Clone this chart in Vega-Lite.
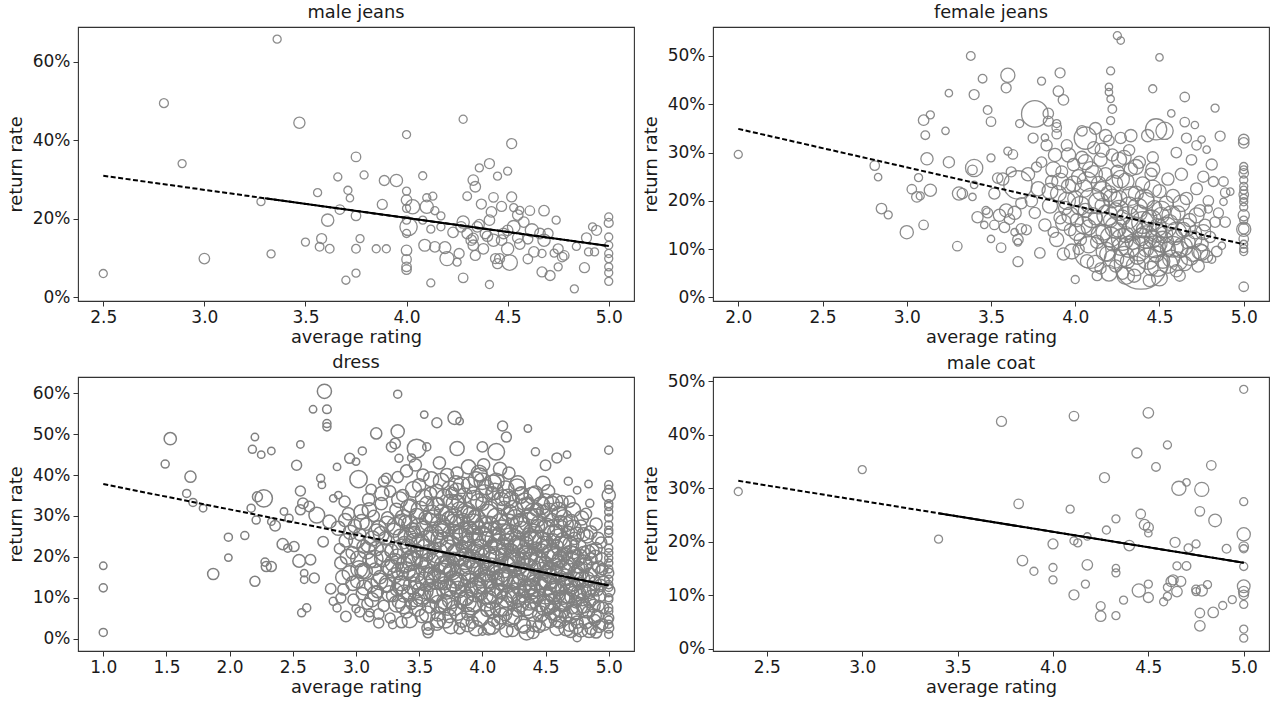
{
"$schema":"https://vega.github.io/schema/vega-lite/v6.json",
"padding":{"left":6,"top":3,"right":5,"bottom":5},
"background":"white",
"bounds":"flush",
"columns":2,
"spacing":{"row":76,"column":79},
"datasets":{
"male_jeans":[
{"rating":3.36,"rate":65.7,"n":13},{"rating":2.80,"rate":49.4,"n":16},{"rating":3.47,"rate":44.4,"n":25},{"rating":2.89,"rate":34.0,"n":13},{"rating":2.50,"rate":6.0,"n":13},{"rating":3.00,"rate":9.8,"n":22},{"rating":3.28,"rate":24.3,"n":13},{"rating":3.33,"rate":11.0,"n":13},{"rating":4.28,"rate":45.3,"n":13},{"rating":4.00,"rate":41.4,"n":13},{"rating":4.52,"rate":39.1,"n":20},{"rating":3.75,"rate":35.7,"n":18},{"rating":3.66,"rate":30.6,"n":13},{"rating":3.79,"rate":31.1,"n":13},{"rating":3.89,"rate":29.7,"n":20},{"rating":3.95,"rate":29.7,"n":30},{"rating":4.08,"rate":30.9,"n":13},{"rating":4.36,"rate":32.9,"n":13},{"rating":4.41,"rate":34.0,"n":20},{"rating":4.50,"rate":32.1,"n":13},{"rating":4.45,"rate":30.8,"n":13},{"rating":4.33,"rate":29.8,"n":22},{"rating":4.34,"rate":28.1,"n":22},{"rating":3.56,"rate":26.6,"n":13},{"rating":3.71,"rate":27.2,"n":13},{"rating":3.72,"rate":25.2,"n":11},{"rating":3.88,"rate":23.6,"n":20},{"rating":4.00,"rate":27.0,"n":13},{"rating":4.00,"rate":24.7,"n":22},{"rating":4.03,"rate":23.0,"n":40},{"rating":4.00,"rate":22.6,"n":13},{"rating":4.10,"rate":23.0,"n":35},{"rating":4.13,"rate":25.7,"n":13},{"rating":4.10,"rate":25.3,"n":13},{"rating":4.14,"rate":22.0,"n":13},{"rating":4.17,"rate":20.7,"n":13},{"rating":4.30,"rate":25.7,"n":15},{"rating":4.37,"rate":23.7,"n":20},{"rating":4.43,"rate":25.4,"n":18},{"rating":4.47,"rate":23.1,"n":20},{"rating":4.52,"rate":25.5,"n":20},{"rating":4.53,"rate":22.8,"n":13},{"rating":4.56,"rate":22.1,"n":13},{"rating":4.61,"rate":22.0,"n":18},{"rating":4.68,"rate":22.0,"n":22},{"rating":3.67,"rate":22.3,"n":18},{"rating":3.75,"rate":20.7,"n":18},{"rating":3.61,"rate":19.6,"n":30},{"rating":4.74,"rate":19.6,"n":13},{"rating":4.01,"rate":17.9,"n":60},{"rating":4.09,"rate":13.2,"n":28},{"rating":4.12,"rate":17.3,"n":13},{"rating":4.14,"rate":12.8,"n":22},{"rating":4.19,"rate":12.6,"n":28},{"rating":4.20,"rate":9.8,"n":40},{"rating":4.25,"rate":8.9,"n":13},{"rating":4.26,"rate":11.1,"n":20},{"rating":4.28,"rate":4.9,"n":18},{"rating":4.28,"rate":19.1,"n":30},{"rating":4.27,"rate":17.9,"n":22},{"rating":4.30,"rate":16.2,"n":22},{"rating":4.32,"rate":14.5,"n":22},{"rating":4.33,"rate":13.2,"n":22},{"rating":4.34,"rate":10.6,"n":20},{"rating":4.35,"rate":17.9,"n":22},{"rating":4.38,"rate":12.3,"n":22},{"rating":4.39,"rate":16.2,"n":22},{"rating":4.41,"rate":19.6,"n":22},{"rating":4.42,"rate":21.7,"n":22},{"rating":4.43,"rate":14.5,"n":30},{"rating":4.44,"rate":9.8,"n":20},{"rating":4.45,"rate":8.5,"n":20},{"rating":4.41,"rate":3.2,"n":13},{"rating":4.46,"rate":9.8,"n":20},{"rating":4.48,"rate":16.2,"n":22},{"rating":4.50,"rate":12.3,"n":30},{"rating":4.51,"rate":8.8,"n":48},{"rating":4.53,"rate":17.9,"n":32},{"rating":4.55,"rate":15.1,"n":22},{"rating":4.58,"rate":19.1,"n":22},{"rating":4.60,"rate":9.7,"n":18},{"rating":4.62,"rate":17.0,"n":35},{"rating":4.63,"rate":11.5,"n":22},{"rating":4.66,"rate":16.2,"n":22},{"rating":4.67,"rate":6.4,"n":20},{"rating":4.68,"rate":14.5,"n":30},{"rating":4.70,"rate":16.2,"n":20},{"rating":4.71,"rate":5.5,"n":20},{"rating":4.75,"rate":12.3,"n":20},{"rating":4.75,"rate":7.7,"n":13},{"rating":4.77,"rate":10.2,"n":18},{"rating":4.78,"rate":10.6,"n":18},{"rating":4.67,"rate":11.1,"n":13},{"rating":4.73,"rate":11.2,"n":13},{"rating":4.84,"rate":12.9,"n":13},{"rating":4.83,"rate":2.1,"n":13},{"rating":4.88,"rate":7.5,"n":20},{"rating":4.89,"rate":15.1,"n":20},{"rating":4.92,"rate":17.9,"n":13},{"rating":4.94,"rate":17.0,"n":20},{"rating":4.90,"rate":11.5,"n":13},{"rating":4.93,"rate":11.5,"n":13},{"rating":5.0,"rate":20.4,"n":13},{"rating":5.0,"rate":18.9,"n":16},{"rating":5.0,"rate":15.3,"n":13},{"rating":5.0,"rate":13.2,"n":13},{"rating":5.0,"rate":11.1,"n":13},{"rating":5.0,"rate":9.8,"n":13},{"rating":5.0,"rate":7.7,"n":13},{"rating":5.0,"rate":6.2,"n":13},{"rating":5.0,"rate":4.0,"n":13},{"rating":3.58,"rate":14.9,"n":20},{"rating":3.57,"rate":12.8,"n":15},{"rating":3.62,"rate":12.3,"n":15},{"rating":3.50,"rate":14.0,"n":13},{"rating":3.75,"rate":12.3,"n":15},{"rating":3.77,"rate":14.9,"n":13},{"rating":3.85,"rate":12.3,"n":13},{"rating":3.90,"rate":12.3,"n":13},{"rating":3.70,"rate":4.3,"n":13},{"rating":3.75,"rate":6.1,"n":13},{"rating":4.00,"rate":16.2,"n":13},{"rating":4.00,"rate":11.9,"n":22},{"rating":4.00,"rate":9.6,"n":18},{"rating":4.00,"rate":7.7,"n":18},{"rating":4.00,"rate":7.0,"n":18},{"rating":4.12,"rate":3.6,"n":13},{"rating":4.08,"rate":19.6,"n":13},{"rating":4.17,"rate":17.9,"n":13},{"rating":4.00,"rate":19.6,"n":13},{"rating":4.55,"rate":20.9,"n":22},{"rating":4.40,"rate":15.5,"n":22},{"rating":4.47,"rate":14.5,"n":22},{"rating":4.56,"rate":13.5,"n":22},{"rating":4.60,"rate":14.8,"n":20},{"rating":4.33,"rate":15.0,"n":20},{"rating":4.23,"rate":16.5,"n":22},{"rating":4.36,"rate":18.5,"n":20},{"rating":4.50,"rate":17.0,"n":22}
],
"female_jeans":[
{"rating":2.00,"rate":29.6,"n":13},{"rating":2.81,"rate":27.3,"n":18},{"rating":2.83,"rate":24.9,"n":11},{"rating":2.85,"rate":18.4,"n":22},{"rating":2.89,"rate":17.1,"n":13},{"rating":3.00,"rate":13.5,"n":35},{"rating":3.03,"rate":22.4,"n":18},{"rating":3.06,"rate":20.8,"n":22},{"rating":3.07,"rate":24.8,"n":13},{"rating":3.08,"rate":21.0,"n":13},{"rating":3.10,"rate":15.0,"n":18},{"rating":3.10,"rate":36.7,"n":22},{"rating":3.14,"rate":37.8,"n":13},{"rating":3.11,"rate":33.6,"n":15},{"rating":3.12,"rate":28.7,"n":30},{"rating":3.14,"rate":22.2,"n":30},{"rating":3.25,"rate":28.0,"n":25},{"rating":3.23,"rate":34.5,"n":11},{"rating":3.25,"rate":42.3,"n":11},{"rating":3.31,"rate":21.5,"n":35},{"rating":3.33,"rate":21.5,"n":22},{"rating":3.30,"rate":10.6,"n":18},{"rating":3.38,"rate":50.0,"n":15},{"rating":3.39,"rate":26.4,"n":18},{"rating":3.40,"rate":26.8,"n":60},{"rating":3.39,"rate":20.8,"n":11},{"rating":3.40,"rate":23.3,"n":11},{"rating":3.45,"rate":45.3,"n":15},{"rating":3.40,"rate":42.0,"n":20},{"rating":3.42,"rate":16.6,"n":25},{"rating":3.47,"rate":18.0,"n":13},{"rating":3.46,"rate":15.0,"n":11},{"rating":3.48,"rate":38.8,"n":15},{"rating":3.50,"rate":36.4,"n":18},{"rating":3.50,"rate":28.9,"n":13},{"rating":3.52,"rate":15.0,"n":18},{"rating":3.50,"rate":12.1,"n":11},{"rating":3.56,"rate":10.3,"n":18},{"rating":3.60,"rate":46.0,"n":40},{"rating":3.59,"rate":43.4,"n":20},{"rating":3.60,"rate":30.3,"n":13},{"rating":3.63,"rate":29.6,"n":18},{"rating":3.54,"rate":24.7,"n":22},{"rating":3.59,"rate":18.0,"n":35},{"rating":3.61,"rate":16.2,"n":22},{"rating":3.66,"rate":23.3,"n":160},{"rating":3.64,"rate":13.5,"n":11},{"rating":3.66,"rate":11.4,"n":11},{"rating":3.66,"rate":7.4,"n":20},{"rating":3.67,"rate":36.0,"n":13},{"rating":3.68,"rate":14.2,"n":22},{"rating":3.76,"rate":38.0,"n":141},{"rating":3.80,"rate":44.8,"n":13},{"rating":3.84,"rate":38.1,"n":22},{"rating":3.82,"rate":33.1,"n":11},{"rating":3.90,"rate":42.7,"n":22},{"rating":3.91,"rate":46.5,"n":20},{"rating":3.93,"rate":40.9,"n":22},{"rating":3.89,"rate":36.0,"n":13},{"rating":3.89,"rate":35.2,"n":18},{"rating":4.00,"rate":3.7,"n":13},{"rating":4.21,"rate":41.1,"n":11},{"rating":4.21,"rate":46.9,"n":13},{"rating":4.20,"rate":43.6,"n":11},{"rating":4.20,"rate":42.5,"n":11},{"rating":4.22,"rate":39.0,"n":15},{"rating":4.21,"rate":36.6,"n":13},{"rating":4.25,"rate":54.2,"n":13},{"rating":4.27,"rate":53.2,"n":11},{"rating":4.46,"rate":43.2,"n":13},{"rating":4.50,"rate":49.7,"n":11},{"rating":4.57,"rate":38.1,"n":11},{"rating":4.65,"rate":41.5,"n":18},{"rating":4.65,"rate":36.3,"n":18},{"rating":4.71,"rate":35.7,"n":11},{"rating":4.83,"rate":39.2,"n":13},{"rating":4.86,"rate":33.4,"n":20},{"rating":4.75,"rate":32.7,"n":11},{"rating":4.78,"rate":30.6,"n":11},{"rating":4.81,"rate":27.5,"n":25},{"rating":4.88,"rate":24.0,"n":18},{"rating":4.89,"rate":21.7,"n":18},{"rating":4.92,"rate":21.9,"n":11},{"rating":4.88,"rate":19.8,"n":11},{"rating":4.89,"rate":15.6,"n":22},{"rating":4.87,"rate":10.7,"n":11},{"rating":4.83,"rate":15.6,"n":22},{"rating":4.79,"rate":18.3,"n":13},{"rating":4.75,"rate":9.3,"n":50},{"rating":4.81,"rate":7.9,"n":13},
{"rating":5.0,"rate":32.7,"n":22},{"rating":5.0,"rate":32.0,"n":22},{"rating":5.0,"rate":27.1,"n":13},{"rating":5.0,"rate":26.4,"n":13},{"rating":5.0,"rate":25.7,"n":18},{"rating":5.0,"rate":24.3,"n":13},{"rating":5.0,"rate":22.2,"n":13},{"rating":5.0,"rate":21.3,"n":18},{"rating":5.0,"rate":19.8,"n":13},{"rating":5.0,"rate":18.7,"n":13},{"rating":5.0,"rate":17.0,"n":25},{"rating":5.0,"rate":14.1,"n":40},{"rating":5.0,"rate":12.1,"n":18},{"rating":5.0,"rate":10.1,"n":13},{"rating":5.0,"rate":9.5,"n":13},{"rating":5.0,"rate":2.2,"n":18},{"rating":5.0,"rate":14.2,"n":22},{"rating":5.0,"rate":23.0,"n":13},{"rating":5.0,"rate":20.5,"n":13},{"rating":5.0,"rate":16.0,"n":13},{"rating":5.0,"rate":11.0,"n":13},
{"rating":3.72,"rate":25.5,"n":35},{"rating":3.74,"rate":20.0,"n":30},{"rating":3.76,"rate":17.5,"n":25},{"rating":3.78,"rate":22.5,"n":40},{"rating":3.80,"rate":28.0,"n":22},{"rating":3.82,"rate":15.0,"n":30},{"rating":3.83,"rate":31.5,"n":25},{"rating":3.85,"rate":19.0,"n":45},{"rating":3.86,"rate":24.0,"n":30},{"rating":3.87,"rate":13.5,"n":22},{"rating":3.88,"rate":29.5,"n":35},{"rating":3.90,"rate":21.5,"n":50},{"rating":3.91,"rate":16.5,"n":30},{"rating":3.92,"rate":26.0,"n":28},{"rating":3.93,"rate":9.0,"n":30},{"rating":3.94,"rate":18.5,"n":35},{"rating":3.95,"rate":31.5,"n":25},{"rating":3.96,"rate":23.0,"n":40},{"rating":3.97,"rate":14.0,"n":28},{"rating":3.98,"rate":9.5,"n":45},{"rating":3.99,"rate":27.5,"n":30},{"rating":3.71,"rate":14.0,"n":20},{"rating":3.68,"rate":19.5,"n":25},{"rating":3.75,"rate":33.0,"n":20},{"rating":3.79,"rate":9.2,"n":22},{"rating":3.84,"rate":36.5,"n":20},{"rating":3.89,"rate":33.8,"n":18},{"rating":3.77,"rate":27.0,"n":20},
{"rating":4.00,"rate":20.5,"n":45},{"rating":4.01,"rate":16.0,"n":35},{"rating":4.02,"rate":25.0,"n":40},{"rating":4.03,"rate":12.0,"n":30},{"rating":4.04,"rate":29.0,"n":30},{"rating":4.05,"rate":22.5,"n":60},{"rating":4.06,"rate":33.0,"n":100},{"rating":4.06,"rate":18.0,"n":40},{"rating":4.07,"rate":7.5,"n":35},{"rating":4.08,"rate":14.5,"n":45},{"rating":4.09,"rate":9.3,"n":200},{"rating":4.09,"rate":26.5,"n":50},{"rating":4.10,"rate":20.0,"n":130},{"rating":4.11,"rate":31.0,"n":30},{"rating":4.12,"rate":16.5,"n":40},{"rating":4.13,"rate":11.5,"n":35},{"rating":4.14,"rate":23.5,"n":45},{"rating":4.15,"rate":28.5,"n":35},{"rating":4.15,"rate":6.0,"n":25},{"rating":4.16,"rate":19.0,"n":40},{"rating":4.17,"rate":13.5,"n":50},{"rating":4.18,"rate":33.5,"n":30},{"rating":4.18,"rate":25.5,"n":35},{"rating":4.19,"rate":9.0,"n":45},{"rating":4.20,"rate":21.5,"n":50},{"rating":4.21,"rate":16.0,"n":40},{"rating":4.22,"rate":29.5,"n":30},{"rating":4.22,"rate":11.0,"n":35},{"rating":4.23,"rate":23.5,"n":60},{"rating":4.24,"rate":18.0,"n":45},{"rating":4.24,"rate":6.5,"n":30},{"rating":4.25,"rate":14.0,"n":40},{"rating":4.25,"rate":26.0,"n":35},{"rating":4.04,"rate":34.5,"n":22},{"rating":4.12,"rate":35.0,"n":28},{"rating":4.20,"rate":32.5,"n":22},{"rating":4.02,"rate":10.0,"n":25},{"rating":4.13,"rate":4.5,"n":20},
{"rating":4.26,"rate":20.5,"n":50},{"rating":4.27,"rate":10.5,"n":60},{"rating":4.28,"rate":16.5,"n":45},{"rating":4.29,"rate":29.0,"n":40},{"rating":4.30,"rate":24.0,"n":55},{"rating":4.30,"rate":13.0,"n":50},{"rating":4.31,"rate":7.5,"n":40},{"rating":4.32,"rate":19.0,"n":60},{"rating":4.33,"rate":33.5,"n":30},{"rating":4.33,"rate":26.5,"n":35},{"rating":4.34,"rate":11.5,"n":45},{"rating":4.35,"rate":15.0,"n":55},{"rating":4.36,"rate":21.5,"n":45},{"rating":4.37,"rate":8.5,"n":50},{"rating":4.38,"rate":28.0,"n":30},{"rating":4.38,"rate":17.5,"n":50},{"rating":4.39,"rate":7.2,"n":566},{"rating":4.39,"rate":12.5,"n":60},{"rating":4.40,"rate":23.5,"n":40},{"rating":4.41,"rate":14.0,"n":50},{"rating":4.42,"rate":10.0,"n":45},{"rating":4.42,"rate":20.0,"n":55},{"rating":4.43,"rate":33.5,"n":30},{"rating":4.44,"rate":16.5,"n":45},{"rating":4.45,"rate":25.5,"n":30},{"rating":4.45,"rate":6.0,"n":40},{"rating":4.46,"rate":12.0,"n":55},{"rating":4.47,"rate":18.5,"n":45},{"rating":4.48,"rate":9.0,"n":50},{"rating":4.48,"rate":34.8,"n":90},{"rating":4.49,"rate":14.5,"n":60},{"rating":4.50,"rate":22.0,"n":35},{"rating":4.50,"rate":11.0,"n":45},{"rating":4.51,"rate":17.0,"n":50},{"rating":4.52,"rate":7.5,"n":40},{"rating":4.53,"rate":13.0,"n":55},{"rating":4.53,"rate":34.5,"n":60},{"rating":4.54,"rate":19.5,"n":40},{"rating":4.55,"rate":10.0,"n":45},{"rating":4.55,"rate":24.5,"n":30},{"rating":4.28,"rate":5.0,"n":30},{"rating":4.35,"rate":4.5,"n":35},{"rating":4.44,"rate":3.5,"n":30},{"rating":4.32,"rate":30.5,"n":25},{"rating":4.46,"rate":29.0,"n":25},{"rating":4.27,"rate":33.0,"n":25},
{"rating":4.56,"rate":15.5,"n":50},{"rating":4.57,"rate":8.0,"n":60},{"rating":4.58,"rate":21.0,"n":35},{"rating":4.59,"rate":12.5,"n":50},{"rating":4.60,"rate":5.5,"n":30},{"rating":4.61,"rate":17.5,"n":40},{"rating":4.62,"rate":10.0,"n":55},{"rating":4.63,"rate":25.5,"n":30},{"rating":4.64,"rate":14.0,"n":45},{"rating":4.65,"rate":7.0,"n":40},{"rating":4.66,"rate":20.5,"n":30},{"rating":4.67,"rate":11.5,"n":40},{"rating":4.68,"rate":16.0,"n":35},{"rating":4.69,"rate":28.5,"n":22},{"rating":4.70,"rate":9.0,"n":45},{"rating":4.71,"rate":13.5,"n":35},{"rating":4.72,"rate":22.5,"n":28},{"rating":4.73,"rate":6.5,"n":30},{"rating":4.74,"rate":18.0,"n":28},{"rating":4.75,"rate":11.0,"n":35},{"rating":4.76,"rate":25.0,"n":25},{"rating":4.77,"rate":15.0,"n":28},{"rating":4.78,"rate":8.5,"n":30},{"rating":4.79,"rate":20.0,"n":22},{"rating":4.80,"rate":12.5,"n":25},{"rating":4.82,"rate":24.0,"n":20},{"rating":4.84,"rate":9.5,"n":22},{"rating":4.85,"rate":17.5,"n":20},{"rating":4.60,"rate":30.0,"n":22},{"rating":4.66,"rate":33.0,"n":20},{"rating":4.72,"rate":31.5,"n":18},{"rating":4.62,"rate":4.5,"n":25},
{"rating":3.52,"rate":21.5,"n":25},{"rating":3.55,"rate":17.0,"n":30},{"rating":3.58,"rate":14.5,"n":22},{"rating":3.62,"rate":26.0,"n":20},{"rating":3.57,"rate":24.5,"n":30},{"rating":3.48,"rate":17.5,"n":20},{"rating":3.64,"rate":17.5,"n":35},{"rating":3.66,"rate":12.0,"n":22},
{"rating":3.85,"rate":22.0,"n":50},{"rating":3.87,"rate":26.5,"n":45},{"rating":3.89,"rate":12.0,"n":40},{"rating":3.91,"rate":24.0,"n":55},{"rating":3.93,"rate":15.5,"n":50},{"rating":3.95,"rate":20.0,"n":60},{"rating":3.97,"rate":17.0,"n":55},{"rating":3.99,"rate":23.5,"n":50},{"rating":4.01,"rate":13.5,"n":55},{"rating":4.03,"rate":19.0,"n":70},{"rating":4.05,"rate":15.0,"n":60},{"rating":4.07,"rate":24.0,"n":75},{"rating":4.08,"rate":11.0,"n":60},{"rating":4.10,"rate":16.5,"n":80},{"rating":4.11,"rate":25.5,"n":60},{"rating":4.12,"rate":7.0,"n":55},{"rating":4.14,"rate":19.5,"n":90},{"rating":4.15,"rate":13.0,"n":70},{"rating":4.16,"rate":22.0,"n":75},{"rating":4.18,"rate":9.5,"n":70},{"rating":4.19,"rate":17.0,"n":85},{"rating":4.21,"rate":12.5,"n":80},{"rating":4.22,"rate":20.5,"n":70},{"rating":4.23,"rate":8.0,"n":75},{"rating":4.24,"rate":14.5,"n":90},{"rating":4.26,"rate":18.0,"n":80},{"rating":4.27,"rate":24.5,"n":60},{"rating":4.28,"rate":12.0,"n":95},{"rating":4.29,"rate":8.5,"n":80},{"rating":4.31,"rate":16.5,"n":100},{"rating":4.32,"rate":10.5,"n":90},{"rating":4.33,"rate":21.0,"n":70},{"rating":4.34,"rate":14.0,"n":90},{"rating":4.36,"rate":6.5,"n":75},{"rating":4.37,"rate":18.5,"n":80},{"rating":4.38,"rate":10.0,"n":110},{"rating":4.40,"rate":15.5,"n":95},{"rating":4.41,"rate":20.5,"n":70},{"rating":4.42,"rate":12.5,"n":100},{"rating":4.43,"rate":8.0,"n":90},{"rating":4.45,"rate":16.0,"n":85},{"rating":4.46,"rate":22.5,"n":60},{"rating":4.47,"rate":10.5,"n":95},{"rating":4.48,"rate":13.5,"n":80},{"rating":4.49,"rate":6.5,"n":85},{"rating":4.51,"rate":18.0,"n":70},{"rating":4.52,"rate":11.5,"n":90},{"rating":4.54,"rate":14.5,"n":85},{"rating":4.55,"rate":7.0,"n":75},{"rating":4.57,"rate":17.0,"n":70},{"rating":4.58,"rate":10.5,"n":85},{"rating":4.60,"rate":13.5,"n":80},{"rating":4.61,"rate":7.5,"n":70},{"rating":4.63,"rate":19.5,"n":55},{"rating":4.64,"rate":10.5,"n":70},{"rating":4.66,"rate":14.5,"n":65},{"rating":4.68,"rate":8.5,"n":65},{"rating":4.70,"rate":12.0,"n":60},{"rating":4.72,"rate":17.0,"n":45},{"rating":4.74,"rate":9.5,"n":50},{"rating":4.76,"rate":13.5,"n":45},{"rating":4.26,"rate":28.5,"n":45},{"rating":4.36,"rate":27.0,"n":45},{"rating":4.46,"rate":26.5,"n":40},{"rating":4.06,"rate":28.0,"n":45},{"rating":4.16,"rate":30.5,"n":40},{"rating":3.96,"rate":29.5,"n":40},{"rating":4.30,"rate":4.5,"n":60},{"rating":4.50,"rate":4.0,"n":50},{"rating":4.20,"rate":5.0,"n":50}
],
"dress":[
{"rating":1.00,"rate":1.5,"n":13},{"rating":1.00,"rate":12.4,"n":13},{"rating":1.00,"rate":17.8,"n":11},{"rating":1.49,"rate":42.7,"n":13},{"rating":1.53,"rate":48.9,"n":30},{"rating":1.69,"rate":39.6,"n":25},{"rating":1.66,"rate":35.5,"n":13},{"rating":1.71,"rate":33.3,"n":13},{"rating":1.79,"rate":31.9,"n":11},{"rating":1.87,"rate":15.8,"n":25},{"rating":1.99,"rate":24.8,"n":13},{"rating":1.99,"rate":19.8,"n":11},{"rating":2.12,"rate":25.2,"n":13},{"rating":2.20,"rate":49.3,"n":11},{"rating":2.18,"rate":46.3,"n":13},{"rating":2.25,"rate":45.0,"n":11},{"rating":2.33,"rate":45.9,"n":11},{"rating":2.17,"rate":31.9,"n":13},{"rating":2.21,"rate":29.0,"n":13},{"rating":2.22,"rate":34.7,"n":20},{"rating":2.27,"rate":34.3,"n":60},{"rating":2.20,"rate":14.0,"n":20},{"rating":2.28,"rate":18.7,"n":13},{"rating":2.29,"rate":17.6,"n":20},{"rating":2.33,"rate":17.6,"n":20},{"rating":2.33,"rate":28.6,"n":11},{"rating":2.36,"rate":27.6,"n":22},{"rating":2.43,"rate":31.1,"n":11},{"rating":2.42,"rate":23.1,"n":25},{"rating":2.46,"rate":22.1,"n":13},{"rating":2.47,"rate":29.4,"n":13},{"rating":2.51,"rate":22.5,"n":20},{"rating":2.53,"rate":42.4,"n":20},{"rating":2.56,"rate":47.5,"n":11},{"rating":2.56,"rate":36.1,"n":20},{"rating":2.56,"rate":31.5,"n":20},{"rating":2.58,"rate":33.1,"n":22},{"rating":2.57,"rate":6.3,"n":13},{"rating":2.61,"rate":7.5,"n":13},{"rating":2.59,"rate":16.0,"n":11},{"rating":2.59,"rate":14.4,"n":11},{"rating":2.67,"rate":14.8,"n":20},{"rating":2.55,"rate":19.0,"n":32},{"rating":2.64,"rate":19.3,"n":22},{"rating":2.66,"rate":56.1,"n":11},{"rating":2.75,"rate":60.5,"n":40},{"rating":2.77,"rate":56.1,"n":15},{"rating":2.77,"rate":52.6,"n":13},{"rating":2.77,"rate":51.8,"n":13},{"rating":2.72,"rate":39.2,"n":13},{"rating":2.73,"rate":37.6,"n":11},{"rating":2.69,"rate":30.2,"n":50},{"rating":2.63,"rate":32.3,"n":22},{"rating":2.74,"rate":23.7,"n":22},{"rating":2.79,"rate":28.6,"n":35},{"rating":2.82,"rate":34.3,"n":11},{"rating":2.85,"rate":42.0,"n":11},{"rating":2.86,"rate":35.1,"n":11},{"rating":2.80,"rate":12.2,"n":22},{"rating":2.82,"rate":9.1,"n":13},{"rating":2.85,"rate":7.5,"n":13},{"rating":2.88,"rate":9.9,"n":20},{"rating":2.92,"rate":5.4,"n":22},{"rating":2.95,"rate":44.1,"n":20},{"rating":3.00,"rate":43.3,"n":11},{"rating":3.02,"rate":39.0,"n":60},{"rating":3.05,"rate":45.9,"n":13},{"rating":3.00,"rate":7.3,"n":13},{"rating":3.10,"rate":5.4,"n":22},{"rating":3.11,"rate":6.3,"n":13},{"rating":3.16,"rate":50.2,"n":25},{"rating":3.18,"rate":3.8,"n":20},{"rating":3.24,"rate":39.2,"n":20},{"rating":3.28,"rate":46.9,"n":20},{"rating":3.29,"rate":3.4,"n":13},{"rating":3.33,"rate":59.8,"n":13},{"rating":3.33,"rate":50.7,"n":35},{"rating":3.31,"rate":47.7,"n":22},{"rating":3.34,"rate":44.1,"n":13},{"rating":3.44,"rate":44.2,"n":13},{"rating":3.48,"rate":46.5,"n":70},{"rating":3.54,"rate":54.8,"n":11},{"rating":3.56,"rate":46.9,"n":13},{"rating":3.64,"rate":52.8,"n":20},{"rating":3.78,"rate":54.0,"n":35},{"rating":3.82,"rate":53.2,"n":11},{"rating":3.80,"rate":46.5,"n":40},{"rating":4.00,"rate":46.9,"n":22},{"rating":4.11,"rate":45.7,"n":55},{"rating":4.16,"rate":52.0,"n":20},{"rating":4.19,"rate":49.3,"n":20},{"rating":4.36,"rate":51.4,"n":11},{"rating":4.42,"rate":45.7,"n":13},{"rating":4.50,"rate":42.4,"n":22},{"rating":4.59,"rate":44.2,"n":20},{"rating":4.67,"rate":45.0,"n":11},{"rating":4.68,"rate":38.5,"n":13},{"rating":4.75,"rate":36.3,"n":11},{"rating":4.84,"rate":37.8,"n":11},{"rating":4.85,"rate":33.1,"n":13},{"rating":4.75,"rate":0.2,"n":13},{"rating":3.57,"rate":1.4,"n":20},{"rating":3.57,"rate":3.0,"n":13},{"rating":4.00,"rate":1.8,"n":13},
{"rating":5.0,"rate":46.1,"n":13},{"rating":5.0,"rate":37.6,"n":13},{"rating":5.0,"rate":35.1,"n":35},{"rating":5.0,"rate":32.3,"n":13},{"rating":5.0,"rate":27.8,"n":13},{"rating":5.0,"rate":25.8,"n":13},{"rating":5.0,"rate":22.1,"n":13},{"rating":5.0,"rate":19.7,"n":13},{"rating":5.0,"rate":16.0,"n":20},{"rating":5.0,"rate":13.2,"n":13},{"rating":5.0,"rate":11.7,"n":30},{"rating":5.0,"rate":9.5,"n":13},{"rating":5.0,"rate":6.7,"n":13},{"rating":5.0,"rate":5.0,"n":20},{"rating":5.0,"rate":2.6,"n":20},{"rating":5.0,"rate":1.0,"n":13},{"rating":5.0,"rate":3.5,"n":13},{"rating":5.0,"rate":4.5,"n":13},{"rating":5.0,"rate":7.5,"n":13},{"rating":5.0,"rate":10.0,"n":13},{"rating":5.0,"rate":12.5,"n":13},{"rating":5.0,"rate":14.5,"n":13},{"rating":5.0,"rate":17.0,"n":13},{"rating":5.0,"rate":18.5,"n":13},{"rating":5.0,"rate":21.0,"n":13},{"rating":5.0,"rate":24.0,"n":13},{"rating":5.0,"rate":26.5,"n":13},{"rating":5.0,"rate":29.5,"n":13},{"rating":5.0,"rate":31.0,"n":13},{"rating":5.0,"rate":33.0,"n":13},{"rating":5.0,"rate":36.5,"n":13},
{"rating":2.86,"rate":27.0,"n":40},{"rating":2.88,"rate":18.5,"n":30},{"rating":2.90,"rate":12.0,"n":25},{"rating":2.92,"rate":24.0,"n":35},{"rating":2.94,"rate":30.5,"n":30},{"rating":2.95,"rate":16.0,"n":45},{"rating":2.97,"rate":21.0,"n":30},{"rating":2.98,"rate":9.5,"n":25},{"rating":2.99,"rate":27.5,"n":35},{"rating":2.91,"rate":33.5,"n":25},{"rating":2.87,"rate":22.0,"n":22},
{"rating":3.01,"rate":14.0,"n":35},{"rating":3.02,"rate":19.5,"n":50},{"rating":3.03,"rate":25.5,"n":30},{"rating":3.04,"rate":31.0,"n":40},{"rating":3.05,"rate":11.0,"n":30},{"rating":3.06,"rate":22.5,"n":35},{"rating":3.07,"rate":16.5,"n":45},{"rating":3.08,"rate":28.0,"n":30},{"rating":3.09,"rate":8.5,"n":25},{"rating":3.10,"rate":34.0,"n":30},{"rating":3.11,"rate":19.0,"n":40},{"rating":3.12,"rate":13.0,"n":35},{"rating":3.13,"rate":24.5,"n":45},{"rating":3.14,"rate":30.0,"n":25},{"rating":3.15,"rate":17.0,"n":30},{"rating":3.12,"rate":36.5,"n":22},{"rating":3.03,"rate":6.5,"n":20},
{"rating":3.16,"rate":22.0,"n":40},{"rating":3.17,"rate":11.5,"n":30},{"rating":3.18,"rate":27.0,"n":45},{"rating":3.19,"rate":15.0,"n":35},{"rating":3.20,"rate":33.0,"n":30},{"rating":3.21,"rate":19.5,"n":50},{"rating":3.22,"rate":8.0,"n":25},{"rating":3.23,"rate":24.5,"n":35},{"rating":3.24,"rate":13.0,"n":40},{"rating":3.25,"rate":29.5,"n":30},{"rating":3.26,"rate":17.5,"n":45},{"rating":3.27,"rate":36.0,"n":25},{"rating":3.28,"rate":21.5,"n":35},{"rating":3.29,"rate":10.5,"n":30},{"rating":3.30,"rate":26.5,"n":40},{"rating":3.18,"rate":6.0,"n":22},{"rating":3.27,"rate":5.0,"n":20},{"rating":3.22,"rate":38.5,"n":22},
{"rating":3.31,"rate":15.5,"n":45},{"rating":3.32,"rate":31.5,"n":35},{"rating":3.33,"rate":20.0,"n":50},{"rating":3.34,"rate":9.0,"n":35},{"rating":3.35,"rate":25.0,"n":40},{"rating":3.36,"rate":13.5,"n":45},{"rating":3.37,"rate":35.0,"n":30},{"rating":3.38,"rate":18.0,"n":55},{"rating":3.39,"rate":28.5,"n":35},{"rating":3.40,"rate":6.5,"n":30},{"rating":3.41,"rate":22.5,"n":45},{"rating":3.42,"rate":11.0,"n":40},{"rating":3.43,"rate":32.5,"n":35},{"rating":3.44,"rate":16.0,"n":50},{"rating":3.45,"rate":26.5,"n":40},{"rating":3.33,"rate":39.5,"n":25},{"rating":3.40,"rate":41.0,"n":30},{"rating":3.36,"rate":4.0,"n":25},{"rating":3.43,"rate":20.0,"n":35},{"rating":3.38,"rate":23.5,"n":30},{"rating":3.32,"rate":12.0,"n":30},{"rating":3.44,"rate":8.5,"n":25},{"rating":3.35,"rate":29.0,"n":25},
{"rating":3.46,"rate":19.0,"n":55},{"rating":3.47,"rate":9.5,"n":40},{"rating":3.48,"rate":30.0,"n":45},{"rating":3.49,"rate":14.0,"n":50},{"rating":3.50,"rate":37.5,"n":35},{"rating":3.51,"rate":23.5,"n":60},{"rating":3.52,"rate":5.5,"n":35},{"rating":3.53,"rate":27.0,"n":40},{"rating":3.54,"rate":17.0,"n":55},{"rating":3.55,"rate":11.5,"n":45},{"rating":3.56,"rate":33.0,"n":40},{"rating":3.57,"rate":21.0,"n":50},{"rating":3.58,"rate":8.0,"n":40},{"rating":3.59,"rate":25.5,"n":45},{"rating":3.60,"rate":15.5,"n":55},{"rating":3.47,"rate":42.5,"n":30},{"rating":3.53,"rate":40.0,"n":30},{"rating":3.57,"rate":2.5,"n":30},{"rating":3.50,"rate":12.0,"n":35},{"rating":3.55,"rate":29.5,"n":35},{"rating":3.48,"rate":21.5,"n":35},{"rating":3.59,"rate":35.5,"n":30},{"rating":3.52,"rate":18.5,"n":30},{"rating":3.58,"rate":13.0,"n":30},{"rating":3.46,"rate":26.0,"n":30},
{"rating":3.61,"rate":29.5,"n":50},{"rating":3.62,"rate":10.5,"n":45},{"rating":3.63,"rate":20.0,"n":60},{"rating":3.64,"rate":36.0,"n":40},{"rating":3.65,"rate":6.0,"n":40},{"rating":3.66,"rate":24.5,"n":55},{"rating":3.67,"rate":14.0,"n":50},{"rating":3.68,"rate":31.0,"n":45},{"rating":3.69,"rate":18.0,"n":60},{"rating":3.70,"rate":9.0,"n":45},{"rating":3.71,"rate":27.0,"n":50},{"rating":3.72,"rate":40.0,"n":35},{"rating":3.73,"rate":12.5,"n":55},{"rating":3.74,"rate":22.0,"n":60},{"rating":3.75,"rate":33.5,"n":45},{"rating":3.62,"rate":16.0,"n":35},{"rating":3.64,"rate":3.5,"n":30},{"rating":3.66,"rate":43.0,"n":30},{"rating":3.68,"rate":26.5,"n":35},{"rating":3.70,"rate":13.5,"n":35},{"rating":3.72,"rate":19.0,"n":35},{"rating":3.74,"rate":5.5,"n":35},{"rating":3.65,"rate":33.0,"n":30},{"rating":3.73,"rate":29.5,"n":30},{"rating":3.61,"rate":22.0,"n":30},{"rating":3.67,"rate":8.0,"n":30},{"rating":3.75,"rate":16.5,"n":35},
{"rating":3.76,"rate":16.5,"n":60},{"rating":3.77,"rate":28.5,"n":50},{"rating":3.78,"rate":7.5,"n":45},{"rating":3.79,"rate":38.0,"n":45},{"rating":3.80,"rate":21.0,"n":65},{"rating":3.81,"rate":12.0,"n":55},{"rating":3.82,"rate":31.5,"n":50},{"rating":3.83,"rate":25.0,"n":60},{"rating":3.84,"rate":4.5,"n":40},{"rating":3.85,"rate":17.5,"n":60},{"rating":3.86,"rate":35.0,"n":45},{"rating":3.87,"rate":10.0,"n":50},{"rating":3.88,"rate":23.0,"n":55},{"rating":3.89,"rate":42.0,"n":40},{"rating":3.90,"rate":14.5,"n":55},{"rating":3.77,"rate":19.5,"n":35},{"rating":3.79,"rate":26.0,"n":35},{"rating":3.81,"rate":33.5,"n":35},{"rating":3.83,"rate":9.0,"n":35},{"rating":3.85,"rate":29.0,"n":35},{"rating":3.87,"rate":20.5,"n":35},{"rating":3.89,"rate":6.0,"n":35},{"rating":3.78,"rate":14.0,"n":35},{"rating":3.80,"rate":40.5,"n":30},{"rating":3.82,"rate":2.5,"n":25},{"rating":3.84,"rate":22.5,"n":30},{"rating":3.86,"rate":13.0,"n":30},{"rating":3.88,"rate":31.0,"n":30},{"rating":3.90,"rate":27.0,"n":35},{"rating":3.76,"rate":35.5,"n":30},
{"rating":3.91,"rate":30.0,"n":60},{"rating":3.92,"rate":19.5,"n":65},{"rating":3.93,"rate":8.5,"n":50},{"rating":3.94,"rate":25.5,"n":55},{"rating":3.95,"rate":39.0,"n":45},{"rating":3.96,"rate":13.0,"n":60},{"rating":3.97,"rate":33.5,"n":50},{"rating":3.98,"rate":22.0,"n":65},{"rating":3.99,"rate":5.0,"n":45},{"rating":4.00,"rate":16.0,"n":60},{"rating":4.01,"rate":28.0,"n":55},{"rating":4.02,"rate":10.5,"n":55},{"rating":4.03,"rate":37.0,"n":45},{"rating":4.04,"rate":20.5,"n":60},{"rating":4.05,"rate":2.5,"n":35},{"rating":3.91,"rate":12.0,"n":35},{"rating":3.93,"rate":35.5,"n":35},{"rating":3.95,"rate":17.0,"n":35},{"rating":3.97,"rate":27.0,"n":35},{"rating":3.99,"rate":11.0,"n":35},{"rating":4.01,"rate":42.5,"n":30},{"rating":4.03,"rate":24.5,"n":35},{"rating":4.05,"rate":14.0,"n":40},{"rating":3.92,"rate":4.0,"n":30},{"rating":3.94,"rate":30.0,"n":30},{"rating":3.96,"rate":21.5,"n":35},{"rating":3.98,"rate":14.5,"n":30},{"rating":4.00,"rate":33.0,"n":35},{"rating":4.02,"rate":18.5,"n":35},{"rating":4.04,"rate":7.0,"n":35},{"rating":3.98,"rate":40.0,"n":40},
{"rating":4.06,"rate":31.5,"n":55},{"rating":4.07,"rate":17.5,"n":65},{"rating":4.08,"rate":7.0,"n":50},{"rating":4.09,"rate":24.5,"n":60},{"rating":4.10,"rate":12.5,"n":60},{"rating":4.11,"rate":38.5,"n":50},{"rating":4.12,"rate":20.0,"n":65},{"rating":4.13,"rate":4.0,"n":40},{"rating":4.14,"rate":28.5,"n":55},{"rating":4.15,"rate":15.0,"n":60},{"rating":4.16,"rate":34.5,"n":50},{"rating":4.17,"rate":9.5,"n":55},{"rating":4.18,"rate":22.5,"n":60},{"rating":4.19,"rate":2.0,"n":35},{"rating":4.20,"rate":18.0,"n":55},{"rating":4.06,"rate":10.0,"n":35},{"rating":4.08,"rate":35.5,"n":35},{"rating":4.10,"rate":27.0,"n":35},{"rating":4.12,"rate":14.5,"n":35},{"rating":4.14,"rate":41.5,"n":35},{"rating":4.16,"rate":20.5,"n":35},{"rating":4.18,"rate":6.0,"n":35},{"rating":4.20,"rate":30.5,"n":35},{"rating":4.07,"rate":22.5,"n":35},{"rating":4.09,"rate":4.5,"n":30},{"rating":4.11,"rate":16.0,"n":35},{"rating":4.13,"rate":25.5,"n":35},{"rating":4.15,"rate":11.5,"n":35},{"rating":4.17,"rate":32.0,"n":35},{"rating":4.19,"rate":24.0,"n":35},
{"rating":4.21,"rate":26.0,"n":60},{"rating":4.22,"rate":11.0,"n":60},{"rating":4.23,"rate":34.0,"n":50},{"rating":4.24,"rate":19.0,"n":65},{"rating":4.25,"rate":5.5,"n":50},{"rating":4.26,"rate":29.5,"n":55},{"rating":4.27,"rate":14.5,"n":60},{"rating":4.28,"rate":38.0,"n":45},{"rating":4.29,"rate":22.0,"n":65},{"rating":4.30,"rate":8.5,"n":55},{"rating":4.31,"rate":26.5,"n":60},{"rating":4.32,"rate":16.5,"n":60},{"rating":4.33,"rate":3.0,"n":40},{"rating":4.34,"rate":32.5,"n":50},{"rating":4.35,"rate":12.0,"n":55},{"rating":4.21,"rate":40.5,"n":30},{"rating":4.23,"rate":21.5,"n":35},{"rating":4.25,"rate":13.5,"n":35},{"rating":4.27,"rate":23.5,"n":35},{"rating":4.29,"rate":9.5,"n":35},{"rating":4.31,"rate":35.5,"n":35},{"rating":4.33,"rate":19.5,"n":35},{"rating":4.35,"rate":24.0,"n":35},{"rating":4.22,"rate":31.0,"n":35},{"rating":4.24,"rate":2.0,"n":30},{"rating":4.26,"rate":17.0,"n":35},{"rating":4.28,"rate":7.0,"n":35},{"rating":4.30,"rate":29.0,"n":35},{"rating":4.32,"rate":10.5,"n":35},{"rating":4.34,"rate":21.0,"n":35},
{"rating":4.36,"rate":20.0,"n":60},{"rating":4.37,"rate":7.0,"n":55},{"rating":4.38,"rate":30.0,"n":55},{"rating":4.39,"rate":15.0,"n":65},{"rating":4.40,"rate":24.5,"n":60},{"rating":4.41,"rate":3.5,"n":45},{"rating":4.42,"rate":35.5,"n":45},{"rating":4.43,"rate":11.0,"n":60},{"rating":4.44,"rate":19.0,"n":65},{"rating":4.45,"rate":28.0,"n":55},{"rating":4.46,"rate":6.0,"n":50},{"rating":4.47,"rate":16.5,"n":60},{"rating":4.48,"rate":38.0,"n":40},{"rating":4.49,"rate":23.0,"n":55},{"rating":4.50,"rate":10.5,"n":55},{"rating":4.36,"rate":33.0,"n":35},{"rating":4.38,"rate":12.5,"n":35},{"rating":4.40,"rate":1.5,"n":30},{"rating":4.42,"rate":22.0,"n":35},{"rating":4.44,"rate":27.5,"n":35},{"rating":4.46,"rate":13.5,"n":35},{"rating":4.48,"rate":31.0,"n":35},{"rating":4.50,"rate":18.5,"n":35},{"rating":4.37,"rate":25.5,"n":35},{"rating":4.39,"rate":9.0,"n":35},{"rating":4.41,"rate":17.5,"n":35},{"rating":4.43,"rate":31.5,"n":35},{"rating":4.45,"rate":3.0,"n":30},{"rating":4.47,"rate":21.5,"n":35},{"rating":4.49,"rate":14.0,"n":35},
{"rating":4.51,"rate":27.5,"n":50},{"rating":4.52,"rate":14.0,"n":60},{"rating":4.53,"rate":4.5,"n":45},{"rating":4.54,"rate":21.0,"n":60},{"rating":4.55,"rate":33.0,"n":45},{"rating":4.56,"rate":9.0,"n":55},{"rating":4.57,"rate":17.5,"n":60},{"rating":4.58,"rate":26.0,"n":50},{"rating":4.59,"rate":2.5,"n":40},{"rating":4.60,"rate":12.5,"n":55},{"rating":4.61,"rate":30.5,"n":45},{"rating":4.62,"rate":19.5,"n":55},{"rating":4.63,"rate":7.0,"n":50},{"rating":4.64,"rate":24.0,"n":50},{"rating":4.65,"rate":15.0,"n":55},{"rating":4.52,"rate":36.0,"n":35},{"rating":4.54,"rate":11.0,"n":35},{"rating":4.56,"rate":24.0,"n":35},{"rating":4.58,"rate":6.0,"n":35},{"rating":4.60,"rate":19.0,"n":35},{"rating":4.62,"rate":28.5,"n":35},{"rating":4.64,"rate":10.0,"n":35},{"rating":4.53,"rate":17.0,"n":35},{"rating":4.55,"rate":29.0,"n":35},{"rating":4.57,"rate":13.0,"n":35},{"rating":4.59,"rate":22.5,"n":35},{"rating":4.61,"rate":4.0,"n":30},{"rating":4.63,"rate":33.5,"n":30},{"rating":4.65,"rate":20.5,"n":35},{"rating":4.51,"rate":8.0,"n":35},
{"rating":4.66,"rate":28.0,"n":45},{"rating":4.67,"rate":9.5,"n":50},{"rating":4.68,"rate":18.0,"n":55},{"rating":4.69,"rate":3.5,"n":40},{"rating":4.70,"rate":23.0,"n":50},{"rating":4.71,"rate":13.0,"n":55},{"rating":4.72,"rate":31.5,"n":40},{"rating":4.73,"rate":6.5,"n":45},{"rating":4.74,"rate":16.0,"n":50},{"rating":4.75,"rate":25.5,"n":40},{"rating":4.76,"rate":11.0,"n":45},{"rating":4.77,"rate":20.0,"n":45},{"rating":4.78,"rate":2.0,"n":35},{"rating":4.79,"rate":14.5,"n":45},{"rating":4.80,"rate":8.0,"n":40},{"rating":4.66,"rate":5.5,"n":30},{"rating":4.68,"rate":26.0,"n":30},{"rating":4.70,"rate":12.0,"n":30},{"rating":4.72,"rate":21.0,"n":30},{"rating":4.74,"rate":9.0,"n":30},{"rating":4.76,"rate":17.5,"n":30},{"rating":4.78,"rate":27.5,"n":30},{"rating":4.80,"rate":21.0,"n":30},{"rating":4.67,"rate":14.5,"n":30},{"rating":4.69,"rate":33.5,"n":25},{"rating":4.71,"rate":7.5,"n":30},{"rating":4.73,"rate":24.5,"n":30},{"rating":4.75,"rate":4.0,"n":30},{"rating":4.77,"rate":13.5,"n":30},{"rating":4.79,"rate":9.5,"n":30},
{"rating":4.81,"rate":18.0,"n":40},{"rating":4.82,"rate":4.0,"n":35},{"rating":4.83,"rate":25.0,"n":35},{"rating":4.84,"rate":11.5,"n":40},{"rating":4.85,"rate":15.5,"n":40},{"rating":4.86,"rate":2.5,"n":30},{"rating":4.87,"rate":21.5,"n":35},{"rating":4.88,"rate":8.0,"n":35},{"rating":4.89,"rate":13.5,"n":35},{"rating":4.90,"rate":28.0,"n":30},{"rating":4.91,"rate":5.5,"n":30},{"rating":4.92,"rate":17.5,"n":30},{"rating":4.93,"rate":10.5,"n":30},{"rating":4.94,"rate":23.5,"n":25},{"rating":4.95,"rate":3.5,"n":25},{"rating":4.96,"rate":14.0,"n":25},{"rating":4.82,"rate":30.5,"n":25},{"rating":4.84,"rate":6.5,"n":30},{"rating":4.86,"rate":19.5,"n":30},{"rating":4.88,"rate":12.0,"n":30},{"rating":4.90,"rate":1.5,"n":25},{"rating":4.92,"rate":8.0,"n":25},{"rating":4.94,"rate":16.5,"n":25},{"rating":4.85,"rate":9.0,"n":30},{"rating":4.89,"rate":4.5,"n":25},
{"rating":3.305,"rate":18.5,"n":70},{"rating":3.315,"rate":27.5,"n":60},{"rating":3.325,"rate":8.5,"n":55},{"rating":3.345,"rate":34.0,"n":50},{"rating":3.355,"rate":13.0,"n":65},{"rating":3.365,"rate":22.0,"n":75},{"rating":3.375,"rate":29.5,"n":55},{"rating":3.385,"rate":11.0,"n":60},{"rating":3.395,"rate":16.5,"n":70},{"rating":3.405,"rate":25.0,"n":65},{"rating":3.415,"rate":32.0,"n":50},{"rating":3.425,"rate":4.5,"n":45},{"rating":3.435,"rate":19.0,"n":75},{"rating":3.445,"rate":13.0,"n":60},{"rating":3.455,"rate":36.5,"n":50},{"rating":3.465,"rate":23.5,"n":70},{"rating":3.475,"rate":16.0,"n":65},{"rating":3.485,"rate":7.5,"n":55},{"rating":3.495,"rate":27.0,"n":70},{"rating":3.505,"rate":31.5,"n":60},{"rating":3.515,"rate":10.0,"n":60},{"rating":3.525,"rate":20.0,"n":80},{"rating":3.535,"rate":34.5,"n":55},{"rating":3.545,"rate":14.0,"n":70},{"rating":3.555,"rate":24.0,"n":75},{"rating":3.565,"rate":6.0,"n":50},{"rating":3.575,"rate":28.5,"n":65},{"rating":3.585,"rate":18.5,"n":80},{"rating":3.595,"rate":39.0,"n":45},{"rating":3.605,"rate":11.0,"n":65},
{"rating":3.615,"rate":25.5,"n":75},{"rating":3.625,"rate":32.5,"n":60},{"rating":3.635,"rate":14.5,"n":80},{"rating":3.645,"rate":21.0,"n":85},{"rating":3.655,"rate":8.5,"n":60},{"rating":3.665,"rate":28.0,"n":70},{"rating":3.675,"rate":38.5,"n":50},{"rating":3.685,"rate":16.0,"n":80},{"rating":3.695,"rate":23.5,"n":85},{"rating":3.705,"rate":4.5,"n":50},{"rating":3.715,"rate":12.0,"n":75},{"rating":3.725,"rate":30.0,"n":70},{"rating":3.735,"rate":18.0,"n":85},{"rating":3.745,"rate":36.5,"n":55},{"rating":3.755,"rate":9.5,"n":65},{"rating":3.765,"rate":25.5,"n":80},{"rating":3.775,"rate":14.0,"n":80},{"rating":3.785,"rate":33.0,"n":65},{"rating":3.795,"rate":20.5,"n":90},{"rating":3.805,"rate":6.5,"n":55},{"rating":3.815,"rate":28.0,"n":75},{"rating":3.825,"rate":15.5,"n":85},{"rating":3.835,"rate":37.5,"n":55},{"rating":3.845,"rate":24.5,"n":85},{"rating":3.855,"rate":10.5,"n":70},{"rating":3.865,"rate":19.5,"n":90},{"rating":3.875,"rate":31.0,"n":70},{"rating":3.885,"rate":3.5,"n":45},{"rating":3.895,"rate":26.0,"n":80},{"rating":3.905,"rate":16.5,"n":85},
{"rating":3.915,"rate":8.0,"n":65},{"rating":3.925,"rate":23.5,"n":90},{"rating":3.935,"rate":34.0,"n":65},{"rating":3.945,"rate":12.5,"n":80},{"rating":3.955,"rate":29.0,"n":75},{"rating":3.965,"rate":18.0,"n":95},{"rating":3.975,"rate":40.5,"n":50},{"rating":3.985,"rate":5.0,"n":55},{"rating":3.995,"rate":25.0,"n":85},{"rating":4.005,"rate":13.5,"n":85},{"rating":4.015,"rate":35.5,"n":60},{"rating":4.025,"rate":20.0,"n":95},{"rating":4.035,"rate":9.0,"n":70},{"rating":4.045,"rate":30.5,"n":75},{"rating":4.055,"rate":16.5,"n":90},{"rating":4.065,"rate":26.0,"n":85},{"rating":4.075,"rate":3.0,"n":50},{"rating":4.085,"rate":38.0,"n":55},{"rating":4.095,"rate":19.0,"n":95},{"rating":4.105,"rate":11.0,"n":80},{"rating":4.115,"rate":29.5,"n":80},{"rating":4.125,"rate":23.0,"n":90},{"rating":4.135,"rate":7.5,"n":65},{"rating":4.145,"rate":33.5,"n":65},{"rating":4.155,"rate":14.5,"n":90},{"rating":4.165,"rate":25.5,"n":85},{"rating":4.175,"rate":17.5,"n":90},{"rating":4.185,"rate":36.5,"n":55},{"rating":4.195,"rate":10.0,"n":75},{"rating":4.205,"rate":28.0,"n":80},
{"rating":4.215,"rate":20.5,"n":95},{"rating":4.225,"rate":5.0,"n":60},{"rating":4.235,"rate":15.0,"n":90},{"rating":4.245,"rate":31.5,"n":70},{"rating":4.255,"rate":24.0,"n":90},{"rating":4.265,"rate":10.0,"n":80},{"rating":4.275,"rate":37.0,"n":55},{"rating":4.285,"rate":18.5,"n":95},{"rating":4.295,"rate":27.5,"n":80},{"rating":4.305,"rate":13.0,"n":85},{"rating":4.315,"rate":3.5,"n":50},{"rating":4.325,"rate":22.5,"n":90},{"rating":4.335,"rate":33.5,"n":60},{"rating":4.345,"rate":8.0,"n":75},{"rating":4.355,"rate":17.0,"n":95},{"rating":4.365,"rate":28.5,"n":75},{"rating":4.375,"rate":12.0,"n":85},{"rating":4.385,"rate":23.5,"n":90},{"rating":4.395,"rate":35.0,"n":55},{"rating":4.405,"rate":6.5,"n":70},{"rating":4.415,"rate":19.5,"n":95},{"rating":4.425,"rate":29.5,"n":70},{"rating":4.435,"rate":14.5,"n":90},{"rating":4.445,"rate":24.0,"n":85},{"rating":4.455,"rate":9.0,"n":80},{"rating":4.465,"rate":32.5,"n":60},{"rating":4.475,"rate":17.5,"n":90},{"rating":4.485,"rate":4.0,"n":55},{"rating":4.495,"rate":26.5,"n":75},{"rating":4.505,"rate":13.0,"n":85},
{"rating":4.515,"rate":21.5,"n":85},{"rating":4.525,"rate":31.0,"n":60},{"rating":4.535,"rate":8.5,"n":75},{"rating":4.545,"rate":16.0,"n":90},{"rating":4.555,"rate":25.5,"n":70},{"rating":4.565,"rate":11.5,"n":85},{"rating":4.575,"rate":33.5,"n":50},{"rating":4.585,"rate":19.5,"n":85},{"rating":4.595,"rate":5.0,"n":60},{"rating":4.605,"rate":27.0,"n":65},{"rating":4.615,"rate":13.5,"n":85},{"rating":4.625,"rate":22.5,"n":80},{"rating":4.635,"rate":9.0,"n":75},{"rating":4.645,"rate":29.5,"n":55},{"rating":4.655,"rate":17.0,"n":80},{"rating":4.665,"rate":2.5,"n":45},{"rating":4.675,"rate":23.0,"n":70},{"rating":4.685,"rate":11.0,"n":75},{"rating":4.695,"rate":20.5,"n":70},{"rating":4.705,"rate":6.0,"n":60},{"rating":4.715,"rate":27.0,"n":55},{"rating":4.725,"rate":14.0,"n":70},{"rating":4.735,"rate":19.5,"n":65},{"rating":4.745,"rate":3.0,"n":45},{"rating":4.755,"rate":22.5,"n":55},{"rating":4.765,"rate":8.0,"n":60},{"rating":4.775,"rate":16.5,"n":60},{"rating":4.785,"rate":29.5,"n":40},{"rating":4.795,"rate":11.5,"n":55},{"rating":4.805,"rate":18.5,"n":50},
{"rating":4.815,"rate":7.0,"n":50},{"rating":4.825,"rate":14.5,"n":50},{"rating":4.835,"rate":21.0,"n":45},{"rating":4.845,"rate":2.0,"n":40},{"rating":4.855,"rate":26.0,"n":35},{"rating":4.865,"rate":10.0,"n":45},{"rating":4.875,"rate":17.0,"n":40},{"rating":4.885,"rate":5.5,"n":40},{"rating":4.895,"rate":20.0,"n":35},{"rating":4.905,"rate":12.0,"n":35},{"rating":4.915,"rate":24.5,"n":30},{"rating":4.925,"rate":3.0,"n":30},{"rating":4.935,"rate":13.0,"n":30},{"rating":4.945,"rate":19.5,"n":30},{"rating":4.955,"rate":7.5,"n":25},
{"rating":3.005,"rate":24.0,"n":50},{"rating":3.025,"rate":17.0,"n":55},{"rating":3.045,"rate":28.5,"n":45},{"rating":3.065,"rate":12.5,"n":45},{"rating":3.085,"rate":21.5,"n":55},{"rating":3.105,"rate":31.5,"n":40},{"rating":3.125,"rate":9.5,"n":40},{"rating":3.145,"rate":19.5,"n":60},{"rating":3.165,"rate":26.0,"n":55},{"rating":3.185,"rate":14.0,"n":55},{"rating":3.205,"rate":35.5,"n":40},{"rating":3.225,"rate":21.0,"n":65},{"rating":3.245,"rate":28.0,"n":50},{"rating":3.265,"rate":11.0,"n":50},{"rating":3.285,"rate":17.0,"n":65},{"rating":2.935,"rate":20.0,"n":45},{"rating":2.955,"rate":26.0,"n":40},{"rating":2.975,"rate":13.5,"n":40},{"rating":2.895,"rate":15.0,"n":40},{"rating":2.915,"rate":29.0,"n":35},
{"rating":3.625,"rate":11.5,"n":80},{"rating":3.65,"rate":19.0,"n":90},{"rating":3.675,"rate":26.5,"n":70},{"rating":3.70,"rate":16.5,"n":85},{"rating":3.725,"rate":8.0,"n":70},{"rating":3.75,"rate":22.5,"n":90},{"rating":3.775,"rate":29.5,"n":70},{"rating":3.80,"rate":13.5,"n":90},{"rating":3.825,"rate":20.5,"n":95},{"rating":3.85,"rate":26.0,"n":80},{"rating":3.875,"rate":9.0,"n":75},{"rating":3.90,"rate":18.5,"n":95},{"rating":3.925,"rate":28.0,"n":80},{"rating":3.95,"rate":11.5,"n":85},{"rating":3.975,"rate":21.5,"n":100},{"rating":4.00,"rate":24.5,"n":90},{"rating":4.025,"rate":14.0,"n":95},{"rating":4.05,"rate":27.5,"n":80},{"rating":4.075,"rate":10.0,"n":85},{"rating":4.10,"rate":21.5,"n":100},{"rating":4.125,"rate":16.0,"n":95},{"rating":4.15,"rate":26.5,"n":85},{"rating":4.175,"rate":8.0,"n":80},{"rating":4.20,"rate":14.0,"n":95},{"rating":4.225,"rate":24.5,"n":90},{"rating":4.25,"rate":19.0,"n":100},{"rating":4.275,"rate":11.0,"n":90},{"rating":4.30,"rate":28.0,"n":75},{"rating":4.325,"rate":15.5,"n":100},{"rating":4.35,"rate":20.0,"n":95},{"rating":4.375,"rate":9.5,"n":85},{"rating":4.40,"rate":25.5,"n":85},{"rating":4.425,"rate":13.0,"n":95},{"rating":4.45,"rate":18.5,"n":95},{"rating":4.475,"rate":23.5,"n":85},{"rating":4.50,"rate":8.0,"n":80},{"rating":4.525,"rate":14.5,"n":90},{"rating":4.55,"rate":20.0,"n":85},{"rating":4.575,"rate":11.0,"n":85},{"rating":4.60,"rate":24.5,"n":70},{"rating":4.625,"rate":16.5,"n":85},{"rating":4.65,"rate":9.5,"n":75},{"rating":4.675,"rate":13.5,"n":75},{"rating":4.70,"rate":19.0,"n":70},{"rating":4.725,"rate":10.5,"n":70},{"rating":4.75,"rate":15.0,"n":65},{"rating":3.55,"rate":22.0,"n":70},{"rating":3.575,"rate":15.0,"n":75},{"rating":3.60,"rate":30.5,"n":60},{"rating":3.525,"rate":10.5,"n":60},{"rating":3.45,"rate":25.0,"n":60},{"rating":3.475,"rate":12.0,"n":60},{"rating":3.40,"rate":18.5,"n":65},{"rating":3.425,"rate":28.0,"n":50},{"rating":3.35,"rate":16.5,"n":60},{"rating":3.375,"rate":8.0,"n":50},{"rating":3.30,"rate":21.5,"n":60},{"rating":3.25,"rate":13.5,"n":55},{"rating":3.20,"rate":25.5,"n":50},{"rating":3.15,"rate":11.0,"n":45},{"rating":3.10,"rate":23.0,"n":50},{"rating":3.05,"rate":16.5,"n":45},{"rating":3.70,"rate":34.5,"n":55},{"rating":3.80,"rate":36.0,"n":55},{"rating":3.90,"rate":37.5,"n":55},{"rating":4.00,"rate":38.5,"n":55},{"rating":4.10,"rate":36.0,"n":55},{"rating":4.20,"rate":34.5,"n":55},{"rating":4.30,"rate":35.0,"n":50},{"rating":4.40,"rate":31.0,"n":55},{"rating":4.50,"rate":33.5,"n":50},{"rating":4.60,"rate":31.5,"n":45},{"rating":4.70,"rate":28.5,"n":45},{"rating":3.65,"rate":4.5,"n":45},{"rating":3.75,"rate":3.0,"n":45},{"rating":3.95,"rate":2.5,"n":45},{"rating":4.15,"rate":5.5,"n":50},{"rating":4.35,"rate":1.5,"n":45},{"rating":4.55,"rate":6.5,"n":50},{"rating":4.70,"rate":2.0,"n":40},{"rating":4.85,"rate":12.5,"n":40},{"rating":4.90,"rate":22.0,"n":30},{"rating":4.95,"rate":17.0,"n":25},{"rating":4.80,"rate":25.5,"n":35}
],
"male_coat":[
{"rating":2.35,"rate":29.4,"n":13},{"rating":3.00,"rate":33.5,"n":13},{"rating":3.40,"rate":20.5,"n":13},{"rating":3.73,"rate":42.5,"n":20},{"rating":3.82,"rate":27.1,"n":18},{"rating":3.84,"rate":16.5,"n":22},{"rating":3.90,"rate":14.5,"n":13},{"rating":4.00,"rate":19.6,"n":20},{"rating":4.00,"rate":15.2,"n":13},{"rating":4.00,"rate":12.9,"n":13},{"rating":4.11,"rate":43.5,"n":18},{"rating":4.09,"rate":26.1,"n":13},{"rating":4.11,"rate":20.2,"n":13},{"rating":4.13,"rate":19.8,"n":13},{"rating":4.18,"rate":21.0,"n":11},{"rating":4.18,"rate":15.7,"n":22},{"rating":4.11,"rate":10.1,"n":20},{"rating":4.17,"rate":12.1,"n":13},{"rating":4.25,"rate":8.0,"n":16},{"rating":4.25,"rate":6.1,"n":22},{"rating":4.27,"rate":32.0,"n":20},{"rating":4.28,"rate":22.2,"n":13},{"rating":4.33,"rate":24.3,"n":13},{"rating":4.33,"rate":15.1,"n":11},{"rating":4.33,"rate":14.2,"n":13},{"rating":4.33,"rate":6.2,"n":13},{"rating":4.37,"rate":9.1,"n":13},{"rating":4.40,"rate":19.3,"n":22},{"rating":4.44,"rate":36.6,"n":20},{"rating":4.46,"rate":25.2,"n":18},{"rating":4.45,"rate":10.9,"n":35},{"rating":4.48,"rate":23.2,"n":22},{"rating":4.50,"rate":22.7,"n":20},{"rating":4.50,"rate":21.6,"n":11},{"rating":4.50,"rate":12.1,"n":13},{"rating":4.50,"rate":9.6,"n":20},{"rating":4.50,"rate":44.1,"n":22},{"rating":4.54,"rate":34.0,"n":15},{"rating":4.60,"rate":38.1,"n":13},{"rating":4.58,"rate":8.8,"n":13},{"rating":4.60,"rate":9.8,"n":13},{"rating":4.60,"rate":11.5,"n":13},{"rating":4.62,"rate":12.6,"n":22},{"rating":4.65,"rate":10.7,"n":22},{"rating":4.65,"rate":15.5,"n":13},{"rating":4.64,"rate":19.9,"n":20},{"rating":4.66,"rate":30.0,"n":40},{"rating":4.67,"rate":12.6,"n":20},{"rating":4.70,"rate":31.1,"n":11},{"rating":4.70,"rate":15.5,"n":15},{"rating":4.71,"rate":18.8,"n":15},{"rating":4.75,"rate":11.1,"n":15},{"rating":4.75,"rate":19.6,"n":13},{"rating":4.75,"rate":10.7,"n":13},{"rating":4.78,"rate":29.8,"n":40},{"rating":4.77,"rate":25.7,"n":18},{"rating":4.78,"rate":10.9,"n":25},{"rating":4.77,"rate":6.7,"n":18},{"rating":4.77,"rate":4.3,"n":22},{"rating":4.81,"rate":12.0,"n":13},{"rating":4.83,"rate":34.3,"n":18},{"rating":4.85,"rate":24.0,"n":32},{"rating":4.84,"rate":6.8,"n":22},{"rating":4.89,"rate":8.1,"n":13},{"rating":4.91,"rate":18.7,"n":15},{"rating":4.94,"rate":9.2,"n":13},{"rating":4.63,"rate":12.9,"n":20},{"rating":5.0,"rate":48.5,"n":13},{"rating":5.0,"rate":27.5,"n":13},{"rating":5.0,"rate":21.4,"n":35},{"rating":5.0,"rate":19.1,"n":18},{"rating":5.0,"rate":18.7,"n":13},{"rating":5.0,"rate":15.4,"n":13},{"rating":5.0,"rate":11.7,"n":32},{"rating":5.0,"rate":10.7,"n":22},{"rating":5.0,"rate":10.1,"n":18},{"rating":5.0,"rate":8.3,"n":13},{"rating":5.0,"rate":3.7,"n":13},{"rating":5.0,"rate":2.0,"n":13}
]
},
"concat":[
{"title":"male jeans","width":556,"height":274,
"layer":[
{"data":{"name":"male_jeans"},"mark":{"type":"point","shape":"circle","filled":false,"color":"#808080","opacity":0.9,"strokeWidth":1.3,"clip":true},
"encoding":{"x":{"field":"rating","type":"quantitative","title":"average rating","scale":{"domain":[2.375,5.125],"nice":false,"zero":false},"axis":{"values":[2.5,3,3.5,4,4.5,5],"format":".1f"}},
"y":{"field":"rate","type":"quantitative","title":"return rate","scale":{"domain":[-1.0,68.8],"nice":false,"zero":false},"axis":{"values":[0,20,40,60],"labelExpr":"datum.value + '%'"}},
"size":{"field":"n","type":"quantitative","scale":{"domain":[0,1000],"range":[0,5000]},"legend":null}}},
{"data":{"values":[{"rating":2.5,"rate":30.9},{"rating":5.0,"rate":13.0}]},"mark":{"type":"line","color":"black","strokeWidth":2,"strokeDash":[5,2.5]},"encoding":{"x":{"field":"rating","type":"quantitative"},"y":{"field":"rate","type":"quantitative"}}},
{"data":{"values":[{"rating":3.3,"rate":25.17},{"rating":5.0,"rate":13.0}]},"mark":{"type":"line","color":"black","strokeWidth":2},"encoding":{"x":{"field":"rating","type":"quantitative"},"y":{"field":"rate","type":"quantitative"}}}
]},
{"title":"female jeans","width":556,"height":274,
"layer":[
{"data":{"name":"female_jeans"},"mark":{"type":"point","shape":"circle","filled":false,"color":"#808080","opacity":0.9,"strokeWidth":1.3,"clip":true},
"encoding":{"x":{"field":"rating","type":"quantitative","title":"average rating","scale":{"domain":[1.85,5.15],"nice":false,"zero":false},"axis":{"values":[2,2.5,3,3.5,4,4.5,5],"format":".1f"}},
"y":{"field":"rate","type":"quantitative","title":"return rate","scale":{"domain":[-0.75,56.0],"nice":false,"zero":false},"axis":{"values":[0,10,20,30,40,50],"labelExpr":"datum.value + '%'"}},
"size":{"field":"n","type":"quantitative","scale":{"domain":[0,1000],"range":[0,5000]},"legend":null}}},
{"data":{"values":[{"rating":2.0,"rate":34.9},{"rating":5.0,"rate":11.0}]},"mark":{"type":"line","color":"black","strokeWidth":2,"strokeDash":[5,2.5]},"encoding":{"x":{"field":"rating","type":"quantitative"},"y":{"field":"rate","type":"quantitative"}}}
]},
{"title":"dress","width":556,"height":274,
"layer":[
{"data":{"name":"dress"},"mark":{"type":"point","shape":"circle","filled":false,"color":"#808080","opacity":1,"strokeWidth":1.5,"clip":true},
"encoding":{"x":{"field":"rating","type":"quantitative","title":"average rating","scale":{"domain":[0.8,5.2],"nice":false,"zero":false},"axis":{"values":[1,1.5,2,2.5,3,3.5,4,4.5,5],"format":".1f"}},
"y":{"field":"rate","type":"quantitative","title":"return rate","scale":{"domain":[-3.05,64.0],"nice":false,"zero":false},"axis":{"values":[0,10,20,30,40,50,60],"labelExpr":"datum.value + '%'"}},
"size":{"field":"n","type":"quantitative","scale":{"domain":[0,1000],"range":[0,5000]},"legend":null}}},
{"data":{"values":[{"rating":1.0,"rate":37.8},{"rating":5.0,"rate":13.0}]},"mark":{"type":"line","color":"black","strokeWidth":2,"strokeDash":[5,2.5]},"encoding":{"x":{"field":"rating","type":"quantitative"},"y":{"field":"rate","type":"quantitative"}}},
{"data":{"values":[{"rating":3.4,"rate":22.92},{"rating":5.0,"rate":13.0}]},"mark":{"type":"line","color":"black","strokeWidth":2},"encoding":{"x":{"field":"rating","type":"quantitative"},"y":{"field":"rate","type":"quantitative"}}}
]},
{"title":{"text":"male coat","offset":-1},"width":556,"height":274,
"layer":[
{"data":{"name":"male_coat"},"mark":{"type":"point","shape":"circle","filled":false,"color":"#808080","opacity":0.9,"strokeWidth":1.3,"clip":true},
"encoding":{"x":{"field":"rating","type":"quantitative","title":"average rating","scale":{"domain":[2.2175,5.1325],"nice":false,"zero":false},"axis":{"values":[2.5,3,3.5,4,4.5,5],"format":".1f"}},
"y":{"field":"rate","type":"quantitative","title":"return rate","scale":{"domain":[-0.4,50.8],"nice":false,"zero":false},"axis":{"values":[0,10,20,30,40,50],"labelExpr":"datum.value + '%'"}},
"size":{"field":"n","type":"quantitative","scale":{"domain":[0,1000],"range":[0,5000]},"legend":null}}},
{"data":{"values":[{"rating":2.35,"rate":31.4},{"rating":5.0,"rate":16.1}]},"mark":{"type":"line","color":"black","strokeWidth":2,"strokeDash":[5,2.5]},"encoding":{"x":{"field":"rating","type":"quantitative"},"y":{"field":"rate","type":"quantitative"}}},
{"data":{"values":[{"rating":3.4,"rate":25.34},{"rating":5.0,"rate":16.1}]},"mark":{"type":"line","color":"black","strokeWidth":2},"encoding":{"x":{"field":"rating","type":"quantitative"},"y":{"field":"rate","type":"quantitative"}}}
]}
],
"config":{
"font":"DejaVu Sans",
"view":{"stroke":"#333333","strokeWidth":1.1},
"axis":{"grid":false,"domain":false,"ticks":true,"tickSize":5,"tickColor":"#333333","tickWidth":1,"labelFont":"DejaVu Sans","labelFontSize":17,"labelColor":"#1a1a1a","labelPadding":3,"labelFlush":false,"labelOverlap":false,"titleFont":"DejaVu Sans","titleFontSize":17.8,"titleFontWeight":"normal","titleColor":"#1a1a1a"},
"axisX":{"titlePadding":3},
"axisY":{"titlePadding":7},
"title":{"font":"DejaVu Sans","fontSize":17.8,"fontWeight":"normal","color":"#1a1a1a","offset":5}
}
}
